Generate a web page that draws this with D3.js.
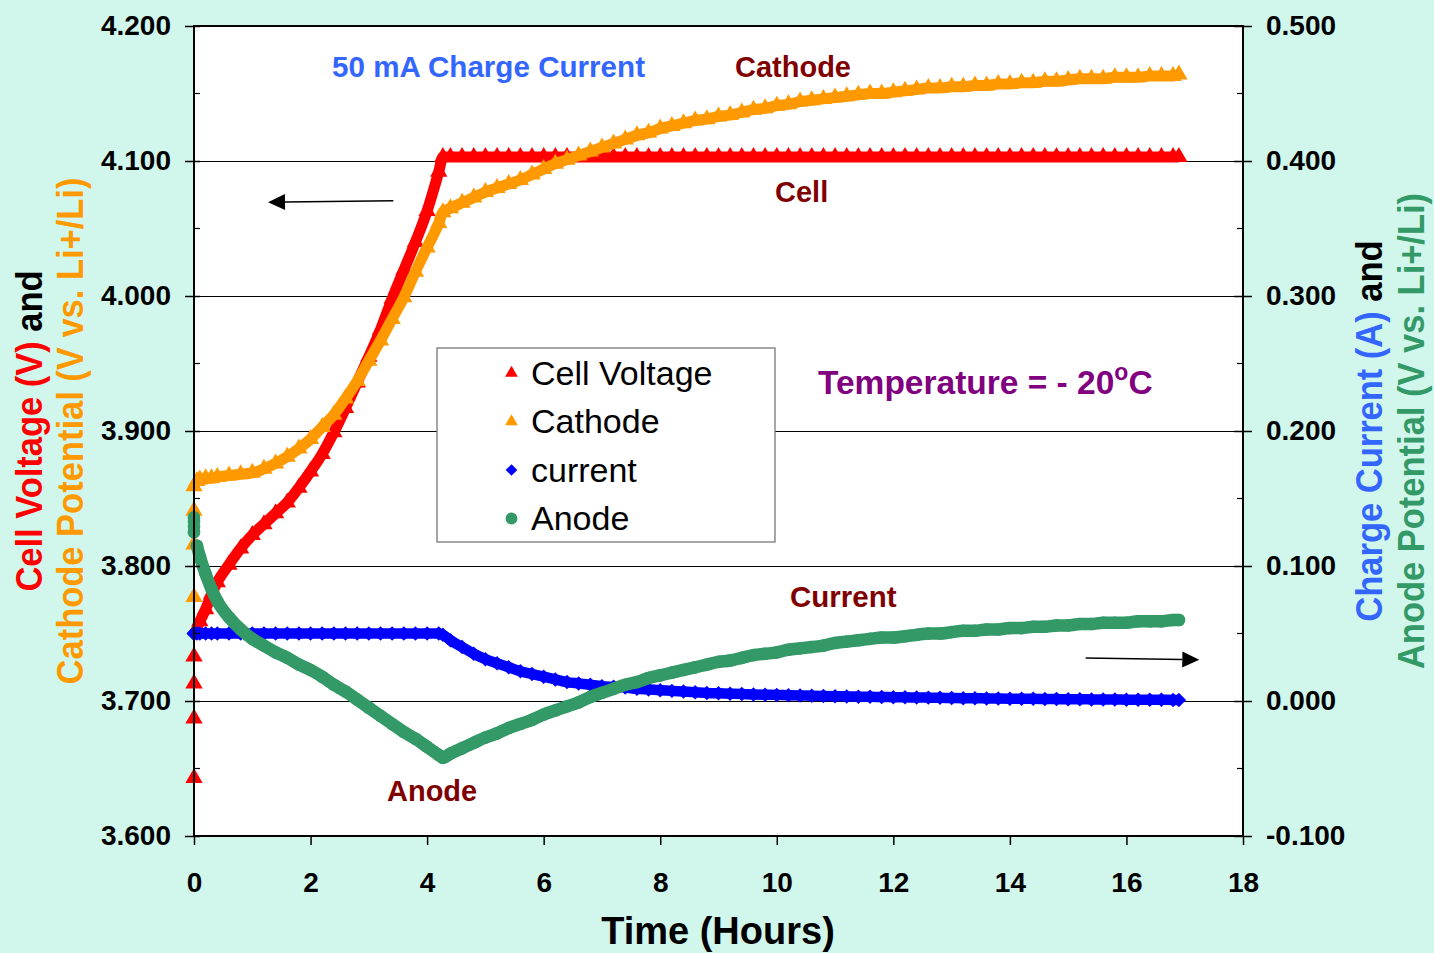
<!DOCTYPE html>
<html>
<head>
<meta charset="utf-8">
<script src="https://cdn.jsdelivr.net/npm/d3@7"></script>
<style>
  html, body { margin: 0; padding: 0; background: #d1f7ec; }
  svg { display: block; }
  text { font-family: "Liberation Sans", Arial, sans-serif; }
</style>
</head>
<body>
<svg id="chart" width="1434" height="953"></svg>
<script>
// Charge test at -20 °C: time base shared by all four recorded channels (hours)
const hours = [
  0, 0, 0, 0,
  0.05, 0.1, 0.2, 0.3,
  0.4, 0.6, 0.8, 1.0, 1.2, 1.4, 1.6, 1.8, 2.0, 2.2,
  2.4, 2.6, 2.8, 3.0, 3.2, 3.4, 3.6, 3.8, 4.0, 4.2,
  4.27,
  4.4, 4.6, 4.8, 5.0, 5.2, 5.4, 5.6, 5.8, 6.0, 6.2,
  6.4, 6.6, 6.8, 7.0, 7.2, 7.4, 7.6, 7.8, 8.0, 8.2,
  8.4, 8.6, 8.8, 9.0, 9.2, 9.4, 9.6, 9.8, 10.0, 10.2,
  10.4, 10.6, 10.8, 11.0, 11.2, 11.4, 11.6, 11.8, 12.0, 12.2,
  12.4, 12.6, 12.8, 13.0, 13.2, 13.4, 13.6, 13.8, 14.0, 14.2,
  14.4, 14.6, 14.8, 15.0, 15.2, 15.4, 15.6, 15.8, 16.0, 16.2,
  16.4, 16.6, 16.8, 16.9
];

// Cell voltage (V), left axis
const cellVoltage = [
  3.643, 3.687, 3.713, 3.733,
  3.754, 3.759, 3.768, 3.779,
  3.788, 3.801, 3.813, 3.823, 3.831, 3.839, 3.847, 3.858, 3.870, 3.883,
  3.899, 3.917, 3.936, 3.955, 3.975, 3.998, 4.019, 4.040, 4.063, 4.092,
  4.103,
  4.103, 4.103, 4.103, 4.103, 4.103, 4.103, 4.103, 4.103, 4.103, 4.103,
  4.103, 4.103, 4.103, 4.103, 4.103, 4.103, 4.103, 4.103, 4.103, 4.103,
  4.103, 4.103, 4.103, 4.103, 4.103, 4.103, 4.103, 4.103, 4.103, 4.103,
  4.103, 4.103, 4.103, 4.103, 4.103, 4.103, 4.103, 4.103, 4.103, 4.103,
  4.103, 4.103, 4.103, 4.103, 4.103, 4.103, 4.103, 4.103, 4.103, 4.103,
  4.103, 4.103, 4.103, 4.103, 4.103, 4.103, 4.103, 4.103, 4.103, 4.103,
  4.103, 4.103, 4.103, 4.103
];

// Cathode potential (V vs. Li+/Li), left axis
const cathode = [
  3.777, 3.816, 3.841, 3.859,
  3.863, 3.864, 3.865, 3.865,
  3.866, 3.867, 3.868, 3.869, 3.872, 3.876, 3.881, 3.887, 3.894, 3.903,
  3.912, 3.924, 3.937, 3.952, 3.967, 3.983, 3.999, 4.018, 4.036, 4.054,
  4.062,
  4.065, 4.069, 4.073, 4.077, 4.080, 4.083, 4.086, 4.090, 4.094, 4.098,
  4.101, 4.104, 4.107, 4.110, 4.113, 4.116, 4.119, 4.121, 4.124, 4.126,
  4.128, 4.130, 4.131, 4.133, 4.134, 4.136, 4.138, 4.139, 4.141, 4.142,
  4.144, 4.145, 4.146, 4.147, 4.148, 4.149, 4.150, 4.150, 4.151, 4.152,
  4.153, 4.154, 4.154, 4.155, 4.155, 4.156, 4.156, 4.157, 4.157, 4.158,
  4.158, 4.159, 4.159, 4.160, 4.161, 4.161, 4.161, 4.162, 4.162, 4.162,
  4.163, 4.163, 4.163, 4.164
];

// Charge current (A), right axis
const current = [
  0.050, 0.050, 0.050, 0.050,
  0.050, 0.050, 0.050, 0.050,
  0.050, 0.050, 0.050, 0.050, 0.050, 0.050, 0.050, 0.050, 0.050, 0.050,
  0.050, 0.050, 0.050, 0.050, 0.050, 0.050, 0.050, 0.050, 0.050, 0.050,
  0.049,
  0.045, 0.040, 0.035, 0.031, 0.028, 0.025, 0.022, 0.020, 0.018, 0.016,
  0.014, 0.013, 0.012, 0.011, 0.0105, 0.010, 0.009, 0.0085, 0.008, 0.0075,
  0.007, 0.0065, 0.006, 0.0057, 0.0054, 0.0051, 0.0049, 0.0047, 0.0045, 0.0043,
  0.0041, 0.0039, 0.0037, 0.0035, 0.0034, 0.0032, 0.0031, 0.0030, 0.0028, 0.0027,
  0.0026, 0.0025, 0.0024, 0.0022, 0.0021, 0.0020, 0.0019, 0.0018, 0.0017, 0.0016,
  0.0016, 0.0015, 0.0014, 0.0013, 0.0013, 0.0012, 0.0011, 0.0011, 0.0010, 0.0010,
  0.0009, 0.0009, 0.0008, 0.0008
];

// Anode potential (V vs. Li+/Li), right axis
const anode = [
  0.136, 0.133, 0.129, 0.125,
  0.115, 0.107, 0.094, 0.083,
  0.074, 0.062, 0.053, 0.046, 0.041, 0.036, 0.032, 0.027, 0.023, 0.018,
  0.012, 0.007, 0.001, -0.005, -0.011, -0.017, -0.023, -0.028, -0.034, -0.040,
  -0.042,
  -0.039, -0.035, -0.031, -0.027, -0.024, -0.020, -0.017, -0.014, -0.010, -0.007,
  -0.004, -0.001, 0.003, 0.006, 0.009, 0.012, 0.014, 0.017, 0.019, 0.021,
  0.023, 0.025, 0.027, 0.029, 0.030, 0.032, 0.034, 0.035, 0.036, 0.038,
  0.039, 0.040, 0.041, 0.043, 0.044, 0.045, 0.046, 0.047, 0.047, 0.048,
  0.049, 0.050, 0.050, 0.051, 0.052, 0.052, 0.053, 0.053, 0.054, 0.054,
  0.055, 0.055, 0.056, 0.056, 0.057, 0.057, 0.058, 0.058, 0.058, 0.059,
  0.059, 0.059, 0.060, 0.060
];

// Axis ticks and labels
const leftTicks = [3.6, 3.7, 3.8, 3.9, 4.0, 4.1, 4.2];
const leftTickLabels = ["3.600", "3.700", "3.800", "3.900", "4.000", "4.100", "4.200"];
const leftMinorTicks = [3.65, 3.75, 3.85, 3.95, 4.05, 4.15];
const rightTicks = [-0.1, 0, 0.1, 0.2, 0.3, 0.4, 0.5];
const rightTickLabels = ["-0.100", "0.000", "0.100", "0.200", "0.300", "0.400", "0.500"];
const rightMinorTicks = [-0.05, 0.05, 0.15, 0.25, 0.35, 0.45];
const timeTicks = [0, 2, 4, 6, 8, 10, 12, 14, 16, 18];
const legendLabels = ["Cell Voltage", "Cathode", "current", "Anode"];

// ---------------------------------------------------------------
const svg = d3.select("#chart");
const W = 1434, H = 953;
const plot = { left: 194, right: 1243, top: 26, bottom: 836 };

svg.append("rect").attr("width", W).attr("height", H).attr("fill", "#d1f7ec");

const x = d3.scaleLinear().domain([0, 18]).range([plot.left, plot.right]);
const yL = d3.scaleLinear().domain([3.6, 4.2]).range([plot.bottom, plot.top]);
const yR = d3.scaleLinear().domain([-0.1, 0.5]).range([plot.bottom, plot.top]);

// plot area
svg.append("rect")
  .attr("x", plot.left).attr("y", plot.top)
  .attr("width", plot.right - plot.left).attr("height", plot.bottom - plot.top)
  .attr("fill", "#ffffff");

// horizontal gridlines at the major voltage ticks
const grid = svg.append("g")
  .attr("transform", `translate(${plot.left},0)`)
  .call(d3.axisLeft(yL).tickValues(leftTicks.slice(1, -1))
    .tickSize(-(plot.right - plot.left)).tickFormat(""));
grid.select(".domain").remove();
grid.selectAll(".tick line").attr("stroke", "#000").attr("stroke-width", 1.2);

// series
const symTri = d3.symbol().type(d3.symbolTriangle);
const symSq = d3.symbol().type(d3.symbolSquare);
const symCirc = d3.symbol().type(d3.symbolCircle);

const series = [
  { vals: cellVoltage, y: yL, color: "#ff0000", marker: "tri", lineW: 11, size: 130, cap: "butt" },
  { vals: cathode,     y: yL, color: "#ff9900", marker: "tri", lineW: 11, size: 130, cap: "butt" },
  { vals: current,     y: yR, color: "#0000ff", marker: "dia", lineW: 10.5, size: 105, cap: "butt" },
  { vals: anode,       y: yR, color: "#339966", marker: "circ", lineW: 12.5, size: 125, cap: "round" }
];

function markerPath(kind, size) {
  if (kind === "tri") return symTri.size(size)();
  if (kind === "dia") return symSq.size(size)();
  return symCirc.size(size)();
}

series.forEach(s => {
  const pts = hours.map((h, i) => ({ h, v: s.vals[i] }));
  const g = svg.append("g");
  const run = pts.filter(d => d.h > 0);
  g.append("path")
    .datum(run)
    .attr("fill", "none")
    .attr("stroke", s.color)
    .attr("stroke-width", s.lineW)
    .attr("stroke-linejoin", "round")
    .attr("stroke-linecap", s.cap)
    .attr("d", d3.line().x(d => x(d.h)).y(d => s.y(d.v)).curve(d3.curveMonotoneX));
  g.selectAll("path.pt")
    .data(pts)
    .join("path")
    .attr("class", "pt")
    .attr("fill", s.color)
    .attr("d", markerPath(s.marker, s.size))
    .attr("transform", d => `translate(${x(d.h)},${s.y(d.v)})` + (s.marker === "dia" ? " rotate(45)" : ""));
});

// plot frame
svg.append("rect")
  .attr("x", plot.left).attr("y", plot.top)
  .attr("width", plot.right - plot.left).attr("height", plot.bottom - plot.top)
  .attr("fill", "none").attr("stroke", "#000").attr("stroke-width", 2);

// axes
const tickFont = g => g.selectAll("text")
  .attr("font-family", "'Liberation Sans', Arial, sans-serif")
  .attr("font-weight", "bold").attr("font-size", 28).attr("fill", "#000");

const axL = svg.append("g")
  .attr("transform", `translate(${plot.left},0)`)
  .call(d3.axisLeft(yL).tickValues(leftTicks)
    .tickFormat((d, i) => leftTickLabels[i]).tickSizeInner(9).tickSizeOuter(0).tickPadding(14));
axL.select(".domain").remove();
axL.selectAll(".tick line").attr("x1", 6).attr("stroke", "#000").attr("stroke-width", 1.5);
axL.call(tickFont);
axL.selectAll(".minor").data(leftMinorTicks).join("line").attr("class", "minor")
  .attr("x1", 0).attr("x2", 6).attr("y1", d => yL(d)).attr("y2", d => yL(d))
  .attr("stroke", "#000").attr("stroke-width", 1.2);

const axR = svg.append("g")
  .attr("transform", `translate(${plot.right},0)`)
  .call(d3.axisRight(yR).tickValues(rightTicks)
    .tickFormat((d, i) => rightTickLabels[i]).tickSizeInner(9).tickSizeOuter(0).tickPadding(14));
axR.select(".domain").remove();
axR.selectAll(".tick line").attr("x1", -9).attr("stroke", "#000").attr("stroke-width", 1.5);
axR.call(tickFont);
axR.selectAll(".minor").data(rightMinorTicks).join("line").attr("class", "minor")
  .attr("x1", 0).attr("x2", -6).attr("y1", d => yR(d)).attr("y2", d => yR(d))
  .attr("stroke", "#000").attr("stroke-width", 1.2);

const axB = svg.append("g")
  .attr("transform", `translate(0,${plot.bottom})`)
  .call(d3.axisBottom(x).tickValues(timeTicks).tickFormat(d3.format("d"))
    .tickSizeInner(9).tickSizeOuter(0).tickPadding(27));
axB.select(".domain").remove();
axB.selectAll(".tick line").attr("stroke", "#000").attr("stroke-width", 1.5);
axB.call(tickFont);

// axis titles
svg.append("text")
  .attr("x", 718).attr("y", 944)
  .attr("text-anchor", "middle")
  .attr("font-weight", "bold").attr("font-size", 38)
  .text("Time (Hours)");

function rotTitle(xPos, parts) {
  const t = svg.append("text")
    .attr("transform", `translate(${xPos},431) rotate(-90) scale(1,1.08)`)
    .attr("text-anchor", "middle")
    .attr("font-weight", "bold").attr("font-size", 34.5);
  parts.forEach(p => t.append("tspan").attr("fill", p[1]).text(p[0]));
}
rotTitle(42, [["Cell Voltage (V)", "#ff0000"], [" and", "#000"]]);
rotTitle(83, [["Cathode Potential (V vs. Li+/Li)", "#ff9900"]]);
rotTitle(1382, [["Charge Current (A)", "#3366ff"], [" and", "#000"]]);
rotTitle(1424, [["Anode Potential (V vs. Li+/Li)", "#339966"]]);

// annotations
function note(xPos, yPos, str, color, size) {
  return svg.append("text").attr("x", xPos).attr("y", yPos)
    .attr("font-weight", "bold").attr("font-size", size).attr("fill", color).text(str);
}
note(332, 77, "50 mA Charge Current", "#3366ff", 29.6);
note(735, 77, "Cathode", "#800000", 29);
note(775, 202, "Cell", "#800000", 29);
note(790, 607, "Current", "#800000", 29.5);
note(387, 801, "Anode", "#800000", 29);

const temp = svg.append("text").attr("x", 818).attr("y", 394)
  .attr("font-weight", "bold").attr("font-size", 33.5).attr("fill", "#800080");
temp.append("tspan").text("Temperature = - 20");
temp.append("tspan").attr("font-size", 23).attr("dy", -14).text("o");
temp.append("tspan").attr("dy", 14).text("C");

// direction arrows: which axis each group of curves belongs to
function arrow(x1, y1, x2, y2) {
  const ang = Math.atan2(y2 - y1, x2 - x1);
  const L = 17, Hh = 8;
  const bx = x2 - L * Math.cos(ang), by = y2 - L * Math.sin(ang);
  svg.append("line").attr("x1", x1).attr("y1", y1).attr("x2", bx).attr("y2", by)
    .attr("stroke", "#000").attr("stroke-width", 1.6);
  const px = -Math.sin(ang) * Hh, py = Math.cos(ang) * Hh;
  svg.append("path")
    .attr("d", `M${x2},${y2}L${bx + px},${by + py}L${bx - px},${by - py}Z`)
    .attr("fill", "#000");
}
arrow(x(3.42), yL(4.0705), x(1.27), yL(4.0695));
arrow(x(15.3), yR(0.0318), x(17.25), yR(0.0305));

// legend
const lg = svg.append("g");
lg.append("rect").attr("x", 437).attr("y", 348).attr("width", 338).attr("height", 194)
  .attr("fill", "#fff").attr("stroke", "#777").attr("stroke-width", 1.3);
const legendMarkers = [
  { kind: "tri", color: "#ff0000", size: 70 },
  { kind: "tri", color: "#ff9900", size: 70 },
  { kind: "dia", color: "#0000ff", size: 68 },
  { kind: "circ", color: "#339966", size: 110 }
];
legendLabels.forEach((lab, i) => {
  const cy = 373 + i * 48.5;
  const m = legendMarkers[i];
  lg.append("path").attr("d", markerPath(m.kind, m.size)).attr("fill", m.color)
    .attr("transform", `translate(511.5,${cy})` + (m.kind === "dia" ? " rotate(45)" : ""));
  lg.append("text").attr("x", 531).attr("y", cy + 11.5)
    .attr("font-size", 34).attr("fill", "#000").text(lab);
});
</script>
</body>
</html>
